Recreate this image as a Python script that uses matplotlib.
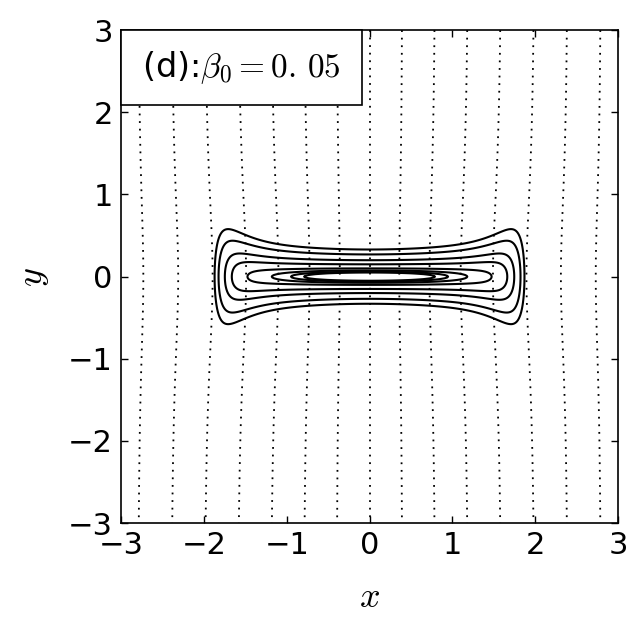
import matplotlib
matplotlib.use("Agg")
import matplotlib.pyplot as plt
from matplotlib.patches import Rectangle
import numpy as np

plt.rcParams['mathtext.fontset'] = 'cm'
plt.rcParams['font.family'] = 'DejaVu Sans'

# closed flux surfaces: psi levels (psi = centre half-height squared)
flux_levels = [0.0025, 0.0036, 0.0056, 0.01, 0.0225, 0.04, 0.073, 0.109]
# field lines (dotted): foot points along x far from the blob
line_feet = [-2.8, -2.4, -2.0, -1.6, -1.2, -0.8, -0.4, 0.0,
             0.4, 0.8, 1.2, 1.6, 2.0, 2.4, 2.8]
# shape parameters of the model field
core_k = 0.004      # weak quadratic core
wall_a = 1.2e-6     # steep wall at |x| ~ 1.9
wall_n = 18
flare_a = 0.15      # flaring of the ends
flare_b = 0.025
bend_a = 0.116      # pull of field lines toward the centre
bend_sx = 2.2
bend_sy = 1.5
label = r'(d):$\beta_0=0.\,05$'

x = np.linspace(-3, 3, 601)
y = np.linspace(-3, 3, 601)
X, Y = np.meshgrid(x, y)

F = core_k * X**2 + wall_a * np.abs(X)**wall_n
psi = F + (Y / (1 + flare_a * X**2 + flare_b * X**6))**2
phi = X * (1 + bend_a * np.exp(-(X / bend_sx)**2) / (1 + (Y / bend_sy)**2))

fig = plt.figure(figsize=(6.41, 6.28), dpi=100)
ax = fig.add_axes([0.189, 0.167, 0.775, 0.785])

ax.contour(X, Y, phi, levels=line_feet, colors='k',
           linestyles=[(0, (1, 3.2))], linewidths=1.3)
ax.contour(X, Y, psi, levels=flux_levels, colors='k', linestyles='-', linewidths=1.5)

ax.set_xlim(-3, 3)
ax.set_ylim(-3, 3)
ax.set_xticks([-3, -2, -1, 0, 1, 2, 3])
ax.set_yticks([-3, -2, -1, 0, 1, 2, 3])
ax.tick_params(direction='in', top=True, right=True, length=5, width=1,
               labelsize=22, pad=6)
for s in ax.spines.values():
    s.set_linewidth(1.2)
ax.set_xlabel(r'$x$', fontsize=26, labelpad=14)
ax.set_ylabel(r'$y$', fontsize=26, labelpad=12)

# label box in the upper left corner
ax.add_patch(Rectangle((0, 0.848), 0.485, 0.152, transform=ax.transAxes,
                       facecolor='white', edgecolor='k', linewidth=1.2,
                       zorder=5, clip_on=False))
ax.text(0.2425, 0.924, label, transform=ax.transAxes, fontsize=24,
        ha='center', va='center', zorder=6)

fig.savefig('out.png', dpi=100)
